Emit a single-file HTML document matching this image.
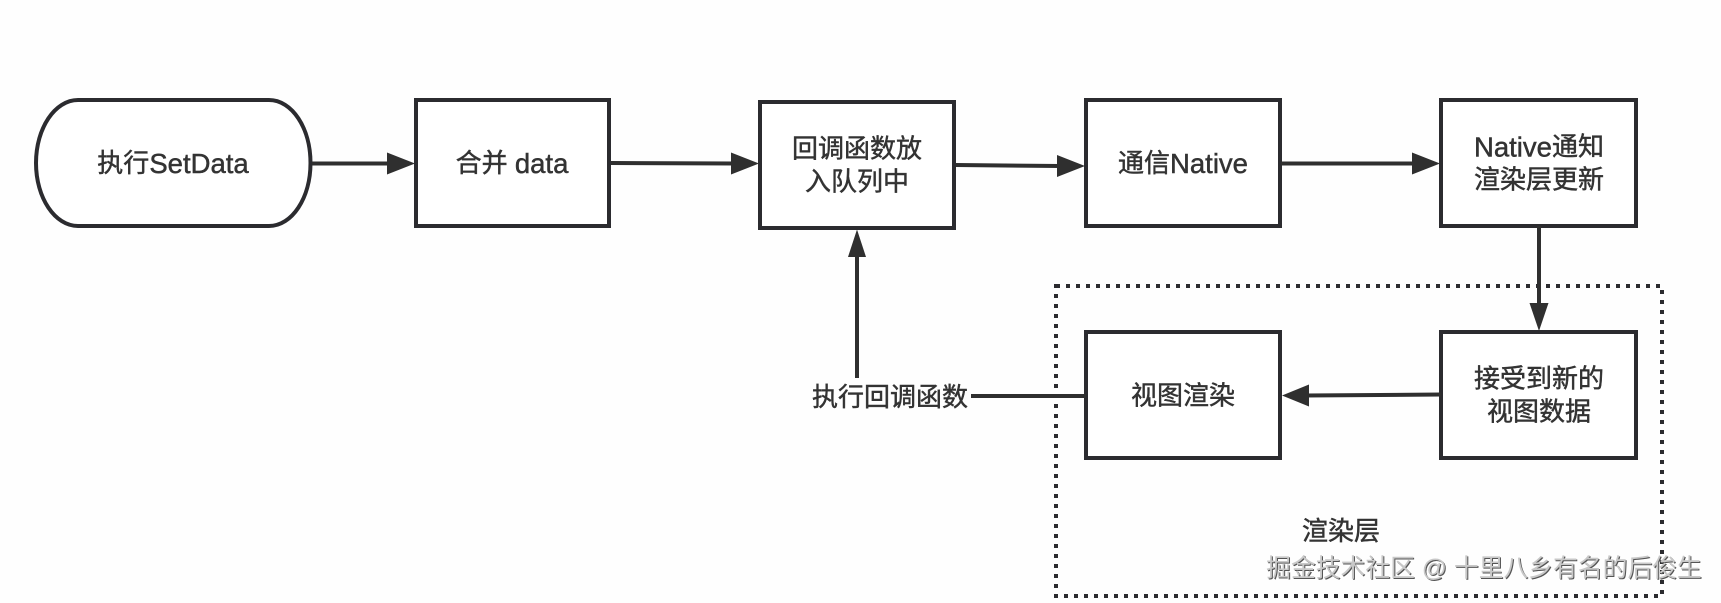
<!DOCTYPE html>
<html lang="zh">
<head>
<meta charset="utf-8">
<title>SetData flow</title>
<style>
html,body{margin:0;padding:0;background:#fefefe;}
svg{display:block;}
text{font-family:"Liberation Sans","Noto Sans CJK SC",sans-serif;font-size:26px;fill:#333;stroke:#333;stroke-width:.45px;text-anchor:middle;dominant-baseline:central;}
tspan{font-size:27.5px;}
.b{fill:#fff;stroke:#2b2b2f;stroke-width:4;}
.l{stroke:#2f2f2f;stroke-width:4;fill:none;}
.a{fill:#2f2f2f;stroke:none;}
.w{font-size:24.8px;stroke:none;}
</style>
</head>
<body>
<svg width="1721" height="603" viewBox="0 0 1721 603" xmlns="http://www.w3.org/2000/svg">
<rect x="0" y="0" width="1721" height="603" fill="#fefefe"/>
<rect x="1056" y="286" width="606" height="310" fill="none" stroke="#2b2b2f" stroke-width="4" stroke-dasharray="4 6"/>

<path class="b" d="M78 100H269C292 100 310.5 128 310.5 163C310.5 198 292 226 269 226H78C55 226 36 198 36 163C36 128 55 100 78 100Z"/>
<rect class="b" x="416" y="100" width="193" height="126"/>
<rect class="b" x="760" y="102" width="194" height="126"/>
<rect class="b" x="1086" y="100" width="194" height="126"/>
<rect class="b" x="1441" y="100" width="195" height="126"/>
<rect class="b" x="1086" y="332" width="194" height="126"/>
<rect class="b" x="1441" y="332" width="195" height="126"/>

<line class="l" x1="312" y1="163.5" x2="392" y2="163.5"/>
<polygon class="a" points="387,152.5 415,163.5 387,174.5"/>
<line class="l" x1="611" y1="163" x2="735" y2="163.5"/>
<polygon class="a" points="731,152.5 759,163.5 731,174.5"/>
<line class="l" x1="956" y1="165" x2="1060" y2="166"/>
<polygon class="a" points="1057,155 1085,166 1057,177"/>
<line class="l" x1="1281" y1="163.5" x2="1415" y2="163.5"/>
<polygon class="a" points="1412,152.5 1440,163.5 1412,174.5"/>
<line class="l" x1="1539" y1="226" x2="1539" y2="305"/>
<polygon class="a" points="1529.5,303 1539,331 1548.5,303"/>
<line class="l" x1="1441" y1="394.5" x2="1305" y2="395.5"/>
<polygon class="a" points="1309,384.5 1282,395.5 1309,406.5"/>
<line class="l" x1="857" y1="378" x2="857" y2="255"/>
<polygon class="a" points="848,257 857,229.5 866,257"/>
<line class="l" x1="971" y1="396" x2="1086" y2="396"/>

<text x="173" y="163">执行<tspan>SetData</tspan></text>
<text x="512" y="163">合并 <tspan>data</tspan></text>
<text x="857" y="148.5">回调函数放</text>
<text x="857" y="181.5">入队列中</text>
<text x="1183" y="163">通信<tspan>Native</tspan></text>
<text x="1539" y="146.5"><tspan>Native</tspan>通知</text>
<text x="1539" y="179.5">渲染层更新</text>
<text x="1183" y="395.5">视图渲染</text>
<text x="1539" y="378.5">接受到新的</text>
<text x="1539" y="411.5">视图数据</text>
<text x="890" y="397">执行回调函数</text>
<text x="1341" y="531">渲染层</text>
<text class="w" x="1485" y="570" style="fill:#555;">掘金技术社区 @ 十里八乡有名的后俊生</text>
<text class="w" x="1484" y="569" style="fill:#c8c8c8;">掘金技术社区 @ 十里八乡有名的后俊生</text>
</svg>
</body>
</html>
